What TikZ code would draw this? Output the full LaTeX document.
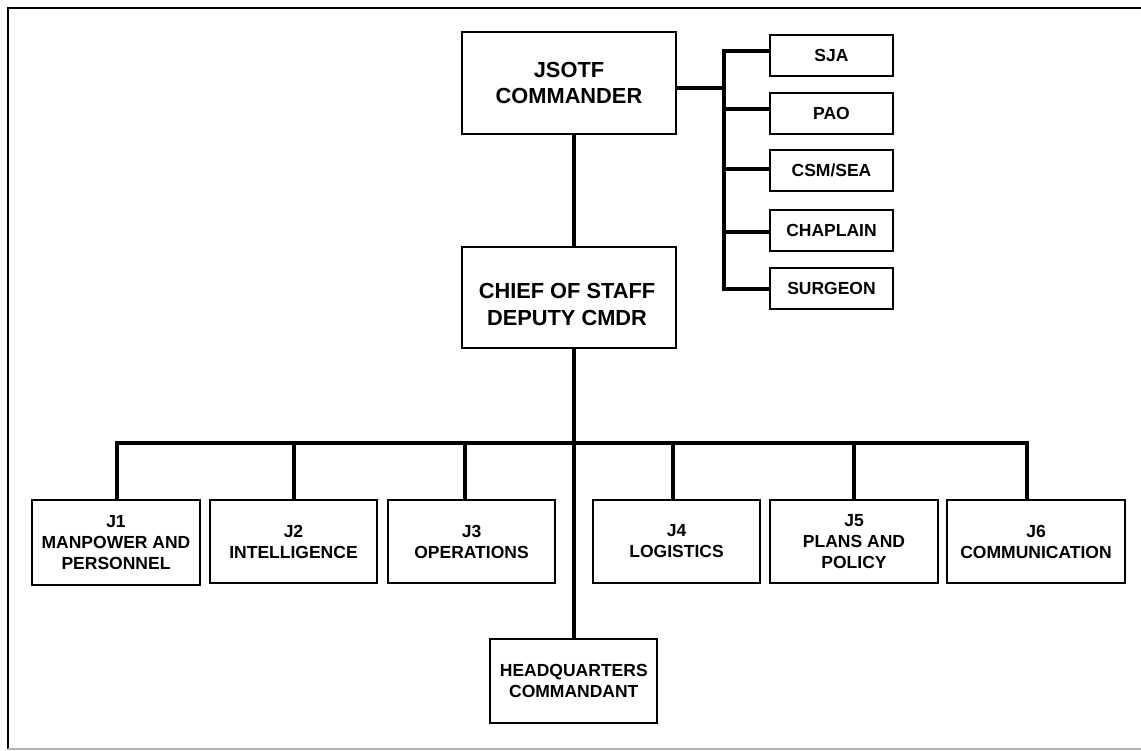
\documentclass[tikz,border=0pt]{standalone}
\usepackage{fontspec}
\setmainfont{Liberation Sans}
\begin{document}
\begin{tikzpicture}[x=1pt,y=-1pt,
  box/.style={draw, line width=2pt, rectangle, inner sep=0pt, align=center,
    font=\bfseries\fontsize{17.5}{21}\selectfont},
  bigbox/.style={box, font=\bfseries\fontsize{21.8}{25.7}\selectfont},
  staff/.style={box, minimum width=123pt, minimum height=41pt},
  jbox/.style={box, minimum height=83pt},
  conn/.style={line width=3.3pt, line join=miter}]
\useasboundingbox (0,0) rectangle (1141,750);

% page frame
\draw[line width=2.3pt] (1141,8) -- (8,8) -- (8,749);
\draw[black!30, line width=1.2pt] (8,749) -- (1141,749);

% command group
\node[bigbox, minimum width=214pt, minimum height=102pt] (jsotf) at (569,83) {JSOTF\\COMMANDER};
\node[bigbox, minimum width=214pt, minimum height=101pt] (chief) at (569,297.5) {};
\node[font=\bfseries\fontsize{21.8}{27.3}\selectfont, align=center, inner sep=0pt]
  (chieftext) at (567,304.5) {CHIEF OF STAFF\\DEPUTY CMDR};

% personal staff
\node[staff] (sja)      at (831.5,55.5)  {SJA};
\node[staff] (pao)      at (831.5,113.5) {PAO};
\node[staff] (csm)      at (831.5,170.5) {CSM/SEA};
\node[staff] (chaplain) at (831.5,230.5) {CHAPLAIN};
\node[staff] (surgeon)  at (831.5,288.5) {SURGEON};

% joint staff directorates
\node[jbox, minimum width=168pt, minimum height=85pt] (j1) at (116,542.5) {J1\\MANPOWER AND\\PERSONNEL};
\node[jbox, minimum width=167pt] (j2) at (293.5,541.5) {J2\\INTELLIGENCE};
\node[jbox, minimum width=167pt] (j3) at (471.5,541.5) {J3\\OPERATIONS};
\node[jbox, minimum width=167pt] (j4) at (676.5,541.5) {J4\\LOGISTICS};
\node[jbox, minimum width=168pt] (j5) at (854,541.5)   {J5\\PLANS AND\\POLICY};
\node[jbox, minimum width=178pt] (j6) at (1036,541.5)  {J6\\COMMUNICATION};
\node[box, minimum width=167pt, minimum height=84pt, font=\bfseries\fontsize{17.5}{20.5}\selectfont]
  (hq) at (573.8,681) {HEADQUARTERS\\COMMANDANT};

% main trunk
\coordinate (cx) at (574,0);
\draw[conn] (jsotf.south -| cx) -- (chief.north -| cx);
\draw[conn] (chief.south -| cx) -- (hq.north -| cx);

% directorate bus
\coordinate (b1) at (117,443);
\coordinate (b2) at (294,443);
\coordinate (b3) at (465,443);
\coordinate (b4) at (673,443);
\coordinate (b5) at (854,443);
\coordinate (b6) at (1027,443);
\draw[conn] (j1.north -| b1) -- (b1) -- (b6) -- (j6.north -| b6);
\draw[conn] (b2) -- (j2.north -| b2);
\draw[conn] (b3) -- (j3.north -| b3);
\draw[conn] (b4) -- (j4.north -| b4);
\draw[conn] (b5) -- (j5.north -| b5);

% personal staff bus
\coordinate (cmdy) at (0,88);
\coordinate (r1) at (724,51);
\coordinate (r2) at (724,109);
\coordinate (r3) at (724,169);
\coordinate (r4) at (724,232);
\coordinate (r5) at (724,289);
\draw[conn] (jsotf.east |- cmdy) -- (r1 |- cmdy);
\draw[conn] (sja.west |- r1) -- (r1) -- (r5) -- (surgeon.west |- r5);
\draw[conn] (r2) -- (pao.west |- r2);
\draw[conn] (r3) -- (csm.west |- r3);
\draw[conn] (r4) -- (chaplain.west |- r4);
\end{tikzpicture}
\end{document}
